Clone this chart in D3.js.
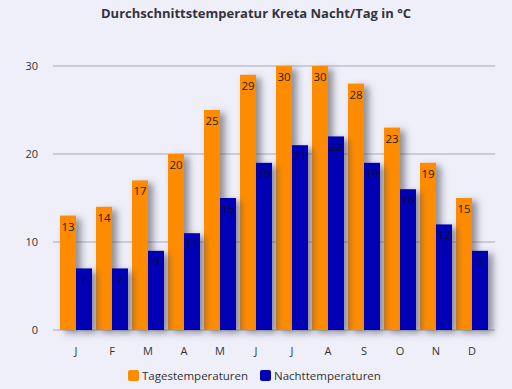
<!DOCTYPE html>
<html>
<head>
<meta charset="utf-8">
<script src="https://cdn.jsdelivr.net/npm/d3@7"></script>
<style>
  body { margin: 0; background: #efeffa; }
  svg { display: block; font-family: "Open Sans", sans-serif; }
</style>
</head>
<body>
<div id="chart"></div>
<script>
// data
var months = ["J", "F", "M", "A", "M", "J", "J", "A", "S", "O", "N", "D"];
var dayTemps = [13, 14, 17, 20, 25, 29, 30, 30, 28, 23, 19, 15];
var nightTemps = [7, 7, 9, 11, 15, 19, 21, 22, 19, 16, 12, 9];
var yTicks = [0, 10, 20, 30];
var seriesNames = ["Tagestemperaturen", "Nachttemperaturen"];
var colors = ["#ff8c00", "#0000b4"];

var W = 512, H = 389;
var margin = {top: 66, right: 22, bottom: 59, left: 58},
    width = 490 - margin.left,
    height = 330 - margin.top;

var svg = d3.select("#chart").append("svg")
    .attr("width", W).attr("height", H);

svg.append("rect").attr("width", W).attr("height", H).attr("fill", "#efeffa");

// shadow
var defs = svg.append("defs");
var f = defs.append("filter").attr("id", "shadow")
    .attr("x", "-50%").attr("y", "-20%").attr("width", "200%").attr("height", "140%");
f.append("feDropShadow").attr("dx", 5).attr("dy", 3).attr("stdDeviation", 3.5)
    .attr("flood-color", "#50505e").attr("flood-opacity", 0.6);

svg.append("text")
    .attr("x", 256).attr("y", 18)
    .attr("text-anchor", "middle")
    .attr("font-size", 13).attr("font-weight", "bold")
    .attr("fill", "#333340")
    .text("Durchschnittstemperatur Kreta Nacht/Tag in °C");

var g = svg.append("g").attr("transform", "translate(" + margin.left + "," + margin.top + ")");

var x = d3.scaleBand().domain(d3.range(months.length)).range([0, width]).paddingInner(0).paddingOuter(0);
var y = d3.scaleLinear().domain([0, 30]).range([height, 0]);

// grid lines
g.selectAll(".grid").data(yTicks).enter().append("line")
    .attr("x1", -5).attr("x2", width + 5)
    .attr("y1", function (d) { return y(d); })
    .attr("y2", function (d) { return y(d); })
    .attr("stroke", "#a8a8b8").attr("stroke-width", 1);

// y labels
g.selectAll(".ylab").data(yTicks).enter().append("text")
    .attr("x", -20).attr("y", function (d) { return y(d) + 4; })
    .attr("text-anchor", "end")
    .attr("font-size", 11).attr("fill", "#333")
    .text(function (d) { return d; });

var barW = 16;
var series = [dayTemps, nightTemps];

series.forEach(function (vals, s) {
    var bars = g.append("g").attr("filter", "url(#shadow)");
    bars.selectAll("rect").data(vals).enter().append("rect")
        .attr("x", function (d, i) { return x(i) + x.bandwidth() / 2 - barW + s * barW; })
        .attr("y", function (d) { return y(d); })
        .attr("width", barW)
        .attr("height", function (d) { return height - y(d); })
        .attr("fill", colors[s]);
});

series.forEach(function (vals, s) {
    g.selectAll(".lab" + s).data(vals).enter().append("text")
        .attr("x", function (d, i) { return x(i) + x.bandwidth() / 2 - barW / 2 + s * barW; })
        .attr("y", function (d) { return y(d) + 15; })
        .attr("text-anchor", "middle")
        .attr("font-size", 11.5)
        .attr("fill", s === 0 ? "#2a1a00" : "#0a0a30")
        .text(function (d) { return d; });
});

// x labels
g.selectAll(".xlab").data(months).enter().append("text")
    .attr("x", function (d, i) { return x(i) + x.bandwidth() / 2; })
    .attr("y", height + 25)
    .attr("text-anchor", "middle")
    .attr("font-size", 11).attr("fill", "#333")
    .text(function (d) { return d; });

// legend
var legendX = [128, 260];
seriesNames.forEach(function (name, s) {
    svg.append("rect")
        .attr("x", legendX[s]).attr("y", 370)
        .attr("width", 11).attr("height", 11).attr("rx", 2)
        .attr("fill", colors[s]);
    svg.append("text")
        .attr("x", legendX[s] + 14).attr("y", 380)
        .attr("font-size", 11.5).attr("fill", "#333")
        .text(name);
});
</script>
</body>
</html>
